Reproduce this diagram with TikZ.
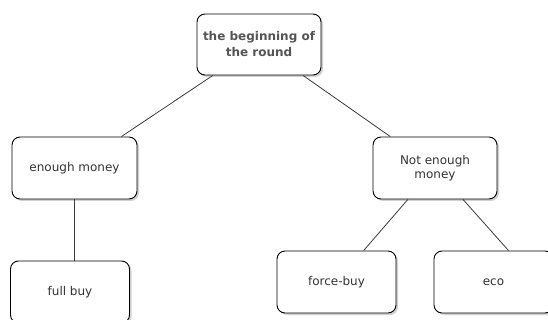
\documentclass[tikz,border=0pt]{standalone}
\usepackage{fontspec}
\setmainfont{DejaVu Sans}
\usepackage{tikz}
\usetikzlibrary{calc, shadows}
\definecolor{txtgray}{HTML}{333333}
\definecolor{rootgray}{HTML}{555555}
\definecolor{edgegray}{HTML}{3A3A3A}
\tikzset{>=latex}
\tikzset{
  box/.style={draw=black, fill=white, rounded corners=8pt, line width=0.9pt,
    minimum width=119pt, minimum height=62pt, inner sep=0pt, align=center,
    text=txtgray, font=\fontsize{12}{14.5}\selectfont,
    drop shadow={shadow xshift=2pt, shadow yshift=-2pt, fill=black!30, opacity=0.6}},
  link/.style={draw=edgegray, line width=0.8pt}
}

\begin{document}
\begin{tikzpicture}[x=1pt, y=-1pt]
\clip (0,0) rectangle (548,320);
% the tree
\node[box, minimum width=124pt, minimum height=61pt, text=rootgray,
  font=\fontsize{12}{16}\selectfont\bfseries] (root) at (259,44.5) {the beginning of\\the round};
\node[box, minimum width=125pt] (em) at (74.5,168) {enough money};
\node[box, minimum width=124pt] (nem) at (435,168) {Not enough\\money};
\node[box] (fullbuy) at (70,292) {full buy};
\node[box] (forcebuy) at (336.5,282) {force-buy};
\node[box] (eco) at (493.5,282) {eco};
\path[link]
(root)
edge (em)
edge (nem)
(em.south)
edge (em.south |- fullbuy.north)
(nem)
edge (forcebuy)
([xshift=28pt]nem.south)
edge ([xshift=15pt]eco.north)
;
\end{tikzpicture}
\end{document}
